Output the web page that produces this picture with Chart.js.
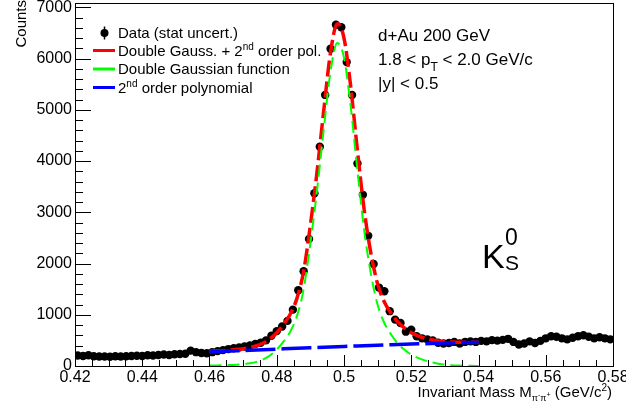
<!DOCTYPE html>
<html>
<head>
<meta charset="utf-8">
<script src="https://cdn.jsdelivr.net/npm/chart.js@4.4.1/dist/chart.umd.min.js"></script>
<style>
  html, body { margin: 0; padding: 0; background: #fff; }
  canvas { display: block; }
</style>
</head>
<body>
<canvas id="massChart" width="626" height="409"></canvas>
<script>
const FONT = "'Liberation Sans', Arial, Helvetica, sans-serif";

// histogram range and binning (100 bins)
const massMin = 0.42;
const massMax = 0.58;
const binWidth = 0.0016;

// counts per bin
const counts = [
  205, 195, 210, 190, 185, 185, 180, 190, 185, 190,
  195, 200, 195, 210, 205, 215, 225, 215, 230, 235,
  240, 300, 270, 255, 250, 270, 290, 310, 330, 345,
  360, 380, 400, 430, 455, 500, 590, 680, 770, 880,
  1100, 1480, 1850, 2480, 3370, 4280, 5290, 6190, 6660, 6610,
  5930, 5290, 3950, 3340, 2540, 1990, 1530, 1460, 1070, 905,
  840, 670, 710, 580, 540, 520, 500, 455, 440, 450,
  470, 440, 470, 480, 470, 490, 480, 505, 495, 510,
  530, 470, 420, 440, 480, 450, 490, 540, 580, 570,
  540, 520, 550, 580, 600, 570, 540, 560, 540, 520
];

// fit curves, sampled every 0.002 from 0.46 to 0.54
const fitStart = 0.46;
const fitStep = 0.002;
const fitTotal = [
  285, 292, 300, 310, 322, 338, 360, 395, 450, 530,
  650, 810, 1010, 1320, 1850, 2750, 3800, 5000, 6120, 6680,
  6400, 5450, 4200, 3050, 2200, 1600, 1250, 1030, 860, 740,
  650, 590, 545, 512, 490, 475, 467, 463, 462, 463, 465
];
const fitSignal = [
  10, 11, 14, 18, 25, 35, 52, 81, 131, 206,
  320, 475, 669, 974, 1499, 2393, 3438, 4633, 5748, 6303,
  6018, 5063, 3808, 2653, 1798, 1194, 839, 615, 440, 316,
  222, 158, 109, 72, 46, 28, 16, 9, 5, 3, 2
];
const fitBackground = [
  275, 281, 286, 292, 297, 303, 308, 314, 319, 324,
  330, 335, 341, 346, 351, 357, 362, 367, 372, 377,
  382, 387, 392, 397, 402, 406, 411, 415, 420, 424,
  428, 432, 436, 440, 444, 447, 451, 454, 457, 460, 463
];

const xTicks = [0.42, 0.44, 0.46, 0.48, 0.5, 0.52, 0.54, 0.56, 0.58];
const yTicks = [0, 1000, 2000, 3000, 4000, 5000, 6000, 7000];
const yMax = 7060;

const dataPoints = counts.map((c, i) => ({ x: massMin + binWidth * (i + 0.5), y: c }));
const toCurve = arr => arr.map((v, i) => ({ x: fitStart + fitStep * i, y: v }));

function drawRich(ctx, parts, x, y, align) {
  const widths = parts.map(([t, s]) => {
    ctx.font = s + 'px ' + FONT;
    return ctx.measureText(t).width;
  });
  const total = widths.reduce((a, b) => a + b, 0);
  let cx = align === 'right' ? x - total : x;
  parts.forEach(([t, s, dy], i) => {
    ctx.font = s + 'px ' + FONT;
    ctx.fillText(t, cx, y + dy);
    cx += widths[i];
  });
}

const rootFrame = {
  id: 'rootFrame',
  afterDatasetsDraw(chart) {
    const { ctx, chartArea: a, scales: { x, y } } = chart;
    ctx.save();
    ctx.strokeStyle = '#000';
    ctx.lineWidth = 1;
    ctx.beginPath();
    for (let v = 0; v <= 7000; v += 200) {
      const py = Math.round(y.getPixelForValue(v)) + 0.5;
      const len = v % 1000 === 0 ? 16 : 8;
      ctx.moveTo(a.left, py);
      ctx.lineTo(a.left + len, py);
    }
    for (let k = 0; k <= 32; k++) {
      const px = Math.round(x.getPixelForValue(massMin + k * 0.005)) + 0.5;
      const len = k % 4 === 0 ? 11 : 6;
      ctx.moveTo(px, a.bottom);
      ctx.lineTo(px, a.bottom - len);
    }
    ctx.stroke();
    ctx.strokeRect(Math.round(a.left) + 0.5, Math.round(a.top) - 0.5,
      Math.round(a.right - a.left), Math.round(a.bottom - a.top) + 1);
    ctx.restore();
  },
  afterDraw(chart) {
    const { ctx } = chart;
    ctx.save();
    ctx.fillStyle = '#000';
    ctx.textBaseline = 'alphabetic';
    ctx.textAlign = 'left';

    // legend
    ctx.beginPath();
    ctx.arc(104.5, 33, 4, 0, Math.PI * 2);
    ctx.fill();
    ctx.lineWidth = 1.5;
    ctx.strokeStyle = '#000';
    ctx.beginPath();
    ctx.moveTo(104.5, 26.5);
    ctx.lineTo(104.5, 39.5);
    ctx.stroke();
    const legendLines = [['#ff0000', 50.5], ['#00ff00', 69], ['#0000ff', 87.5]];
    legendLines.forEach(([c, ly]) => {
      ctx.strokeStyle = c;
      ctx.lineWidth = 3;
      ctx.beginPath();
      ctx.moveTo(93, ly);
      ctx.lineTo(115, ly);
      ctx.stroke();
    });
    drawRich(ctx, [['Data (stat uncert.)', 15, 0]], 118, 37.5);
    drawRich(ctx, [['Double Gauss. + 2', 15, 0], ['nd', 10, -6], [' order pol.', 15, 0]], 118, 55.8);
    drawRich(ctx, [['Double Gaussian function', 15, 0]], 118, 74.2);
    drawRich(ctx, [['2', 15, 0], ['nd', 10, -6], [' order polynomial', 15, 0]], 118, 92.5);

    // collision info
    drawRich(ctx, [['d+Au 200 GeV', 17, 0]], 378, 40.5);
    drawRich(ctx, [['1.8 < p', 17, 0], ['T', 12, 6], [' < 2.0 GeV/c', 17, 0]], 378, 64.5);
    drawRich(ctx, [['|y| < 0.5', 17, 0]], 378, 88.5);

    // particle label
    drawRich(ctx, [['K', 34, 0]], 482, 268);
    drawRich(ctx, [['0', 23, 0]], 505, 245);
    drawRich(ctx, [['S', 21, 0]], 505, 270);

    // axis titles
    drawRich(ctx, [['Invariant Mass M', 15, 0], ['\u03c0', 9, 4], ['-', 7, 0], ['\u03c0', 9, 4], ['+', 7, 0],
      [' (GeV/c', 15, 0], ['2', 10, -6], [')', 15, 0]], 612, 397, 'right');
    ctx.translate(26, 0);
    ctx.rotate(-Math.PI / 2);
    drawRich(ctx, [['Counts', 15, 0]], 0, 0, 'right');
    ctx.restore();
  }
};

new Chart(document.getElementById('massChart'), {
  type: 'scatter',
  data: {
    datasets: [
      {
        label: 'Data (stat uncert.)',
        data: dataPoints,
        backgroundColor: '#000',
        borderColor: '#000',
        pointRadius: 4.2,
        pointBorderWidth: 0,
        order: 4
      },
      {
        type: 'line',
        label: 'Double Gauss. + 2nd order pol.',
        data: toCurve(fitTotal),
        borderColor: '#ff0000',
        borderWidth: 3.5,
        borderDash: [16, 5],
        pointRadius: 0,
        fill: false,
        cubicInterpolationMode: 'monotone',
        order: 3
      },
      {
        type: 'line',
        label: 'Double Gaussian function',
        data: toCurve(fitSignal),
        borderColor: '#00ff00',
        borderWidth: 2,
        borderDash: [12, 6],
        pointRadius: 0,
        fill: false,
        cubicInterpolationMode: 'monotone',
        order: 2
      },
      {
        type: 'line',
        label: '2nd order polynomial',
        data: toCurve(fitBackground),
        borderColor: '#0000ff',
        borderWidth: 3.5,
        borderDash: [30, 6],
        pointRadius: 0,
        fill: false,
        order: 1
      }
    ]
  },
  options: {
    responsive: false,
    animation: false,
    events: [],
    layout: { padding: { top: 2, right: 13, left: 0, bottom: 0 } },
    plugins: { legend: { display: false }, tooltip: { enabled: false } },
    scales: {
      x: {
        type: 'linear',
        min: massMin,
        max: massMax,
        grid: { display: false, drawTicks: false },
        border: { display: false },
        afterBuildTicks: s => { s.ticks = xTicks.map(v => ({ value: v })); },
        afterFit: s => { s.height = 43; s.paddingLeft = 0; s.paddingRight = 0; },
        ticks: {
          color: '#000',
          font: { family: FONT, size: 16 },
          padding: 2,
          maxRotation: 0,
          autoSkip: false,
          callback: v => String(+v.toFixed(2))
        }
      },
      y: {
        min: 0,
        max: yMax,
        grid: { display: false, drawTicks: false },
        border: { display: false },
        afterBuildTicks: s => { s.ticks = yTicks.map(v => ({ value: v })); },
        afterFit: s => { s.width = 75; s.paddingTop = 0; s.paddingBottom = 0; },
        ticks: {
          color: '#000',
          font: { family: FONT, size: 16 },
          padding: 3,
          autoSkip: false,
          callback: v => String(v)
        }
      }
    }
  },
  plugins: [rootFrame]
});
</script>
</body>
</html>
